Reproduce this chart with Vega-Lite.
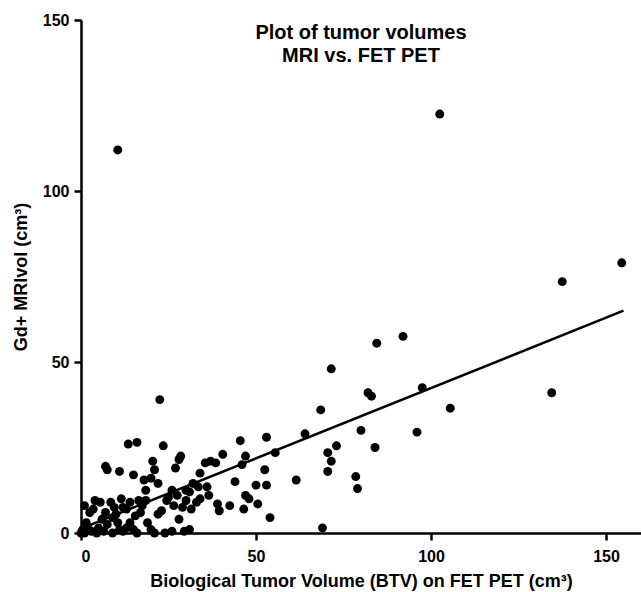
{
  "$schema": "https://vega.github.io/schema/vega-lite/v6.json",
  "width": 560,
  "height": 513,
  "autosize": "none",
  "padding": {"left": 81, "top": 20, "right": 0, "bottom": 59},
  "background": "white",
  "title": {
    "text": ["Plot of tumor volumes", "MRI vs. FET PET"],
    "font": "Liberation Sans",
    "fontSize": 20,
    "fontWeight": "bold",
    "color": "black",
    "anchor": "middle",
    "offset": -54,
    "lineHeight": 23
  },
  "config": {
    "view": {"stroke": null},
    "axis": {
      "grid": false,
      "domainColor": "black",
      "domainWidth": 2.5,
      "tickColor": "black",
      "tickWidth": 2.5,
      "tickSize": 7,
      "labelFont": "Liberation Sans",
      "labelFontSize": 16,
      "labelFontWeight": "bold",
      "labelColor": "black",
      "titleFont": "Liberation Sans",
      "titleFontSize": 18,
      "titleFontWeight": "bold",
      "titleColor": "black"
    }
  },
  "datasets": {
    "pts": [
      {"btv": 10.5, "mri": 112}, {"btv": 102.5, "mri": 122.5}, {"btv": 154.5, "mri": 79}, {"btv": 137.5, "mri": 73.5},
      {"btv": 134.5, "mri": 41}, {"btv": 105.5, "mri": 36.5}, {"btv": 97.5, "mri": 42.5}, {"btv": 96, "mri": 29.5},
      {"btv": 92, "mri": 57.5}, {"btv": 84.5, "mri": 55.5}, {"btv": 82, "mri": 41}, {"btv": 83, "mri": 40},
      {"btv": 84, "mri": 25}, {"btv": 80, "mri": 30}, {"btv": 78.5, "mri": 16.5}, {"btv": 79, "mri": 13},
      {"btv": 71.5, "mri": 48}, {"btv": 68.5, "mri": 36}, {"btv": 70.5, "mri": 23.5}, {"btv": 71.5, "mri": 21},
      {"btv": 70.5, "mri": 18}, {"btv": 73, "mri": 25.5}, {"btv": 69, "mri": 1.5}, {"btv": 64, "mri": 29},
      {"btv": 61.5, "mri": 15.5}, {"btv": 55.5, "mri": 23.5}, {"btv": 53, "mri": 28}, {"btv": 52.5, "mri": 18.5},
      {"btv": 53, "mri": 14}, {"btv": 54, "mri": 4.5}, {"btv": 50.5, "mri": 8.5}, {"btv": 50, "mri": 14},
      {"btv": 47, "mri": 22.5}, {"btv": 46, "mri": 20}, {"btv": 45.5, "mri": 27}, {"btv": 47, "mri": 11},
      {"btv": 46.5, "mri": 7}, {"btv": 40.5, "mri": 23}, {"btv": 38.5, "mri": 20.5}, {"btv": 37, "mri": 21},
      {"btv": 36, "mri": 13.5}, {"btv": 39, "mri": 8.5}, {"btv": 39.5, "mri": 6.5}, {"btv": 35.5, "mri": 20.5},
      {"btv": 34, "mri": 17.5}, {"btv": 33.5, "mri": 13.5}, {"btv": 31, "mri": 12}, {"btv": 32, "mri": 14.5},
      {"btv": 30, "mri": 9.5}, {"btv": 28.5, "mri": 22.5}, {"btv": 28, "mri": 21.5}, {"btv": 27, "mri": 19},
      {"btv": 29, "mri": 7.5}, {"btv": 28, "mri": 4}, {"btv": 26, "mri": 12.5}, {"btv": 24.5, "mri": 9.5},
      {"btv": 22.5, "mri": 39}, {"btv": 23.5, "mri": 25.5}, {"btv": 22, "mri": 14.5}, {"btv": 21, "mri": 18.5},
      {"btv": 20.5, "mri": 21}, {"btv": 20, "mri": 16}, {"btv": 18, "mri": 15.5}, {"btv": 16, "mri": 26.5},
      {"btv": 13.5, "mri": 26}, {"btv": 15, "mri": 17}, {"btv": 16.5, "mri": 9.5}, {"btv": 14, "mri": 9},
      {"btv": 12, "mri": 7.5}, {"btv": 11, "mri": 18}, {"btv": 10, "mri": 5.5}, {"btv": 7, "mri": 19.5},
      {"btv": 7.5, "mri": 18.5}, {"btv": 5.5, "mri": 9}, {"btv": 4, "mri": 9.5}, {"btv": 3.5, "mri": 7},
      {"btv": 1, "mri": 8}, {"btv": 2.5, "mri": 6}, {"btv": 1.5, "mri": 3}, {"btv": 0.5, "mri": 1},
      {"btv": 0, "mri": 0}, {"btv": 1, "mri": 0}, {"btv": 3, "mri": 0.5}, {"btv": 5, "mri": 1.5},
      {"btv": 6, "mri": 4}, {"btv": 7, "mri": 6}, {"btv": 8.5, "mri": 9}, {"btv": 9.5, "mri": 7.5},
      {"btv": 10.5, "mri": 3}, {"btv": 12, "mri": 0.5}, {"btv": 13, "mri": 1.5}, {"btv": 14, "mri": 3},
      {"btv": 15.5, "mri": 5}, {"btv": 17, "mri": 6}, {"btv": 18.5, "mri": 9.5}, {"btv": 19, "mri": 3},
      {"btv": 20, "mri": 1}, {"btv": 22, "mri": 5.5}, {"btv": 23, "mri": 6.5}, {"btv": 25, "mri": 10.5},
      {"btv": 26, "mri": 0.5}, {"btv": 27.5, "mri": 11}, {"btv": 29.5, "mri": 0.5}, {"btv": 31, "mri": 1},
      {"btv": 31.5, "mri": 7}, {"btv": 33, "mri": 9}, {"btv": 34, "mri": 10}, {"btv": 21, "mri": 0},
      {"btv": 16, "mri": 0}, {"btv": 9, "mri": 0}, {"btv": 4.5, "mri": 0}, {"btv": 7.5, "mri": 2.5},
      {"btv": 11.5, "mri": 10}, {"btv": 13, "mri": 7}, {"btv": 17.5, "mri": 8}, {"btv": 24, "mri": 0},
      {"btv": 2, "mri": 1.5}, {"btv": 6.5, "mri": 0.5}, {"btv": 9, "mri": 4.5}, {"btv": 30, "mri": 12.5},
      {"btv": 36.5, "mri": 11}, {"btv": 42.5, "mri": 8}, {"btv": 44, "mri": 15}, {"btv": 18.5, "mri": 12.5},
      {"btv": 26.5, "mri": 8}, {"btv": 15, "mri": 1}, {"btv": 11, "mri": 1}, {"btv": 48, "mri": 10}
    ],
    "fit": [
      {"btv": 0, "mri": 1.3},
      {"btv": 155, "mri": 65}
    ]
  },
  "layer": [
    {
      "data": {"name": "fit"},
      "mark": {"type": "line", "color": "black", "strokeWidth": 2.5},
      "encoding": {
        "x": {"field": "btv", "type": "quantitative"},
        "y": {"field": "mri", "type": "quantitative"}
      }
    },
    {
      "data": {"name": "pts"},
      "mark": {"type": "point", "filled": true, "color": "black", "opacity": 1, "size": 80, "clip": false},
      "encoding": {
        "x": {
          "field": "btv", "type": "quantitative",
          "scale": {"domain": [0, 160], "nice": false},
          "axis": {"values": [0, 50, 100, 150], "title": "Biological Tumor Volume (BTV) on FET PET (cm³)", "titlePadding": 8, "labelPadding": 8}
        },
        "y": {
          "field": "mri", "type": "quantitative",
          "scale": {"domain": [0, 150], "nice": false},
          "axis": {"values": [0, 50, 100, 150], "title": "Gd+ MRIvol (cm³)", "titlePadding": 12, "labelPadding": 5}
        }
      }
    }
  ]
}
